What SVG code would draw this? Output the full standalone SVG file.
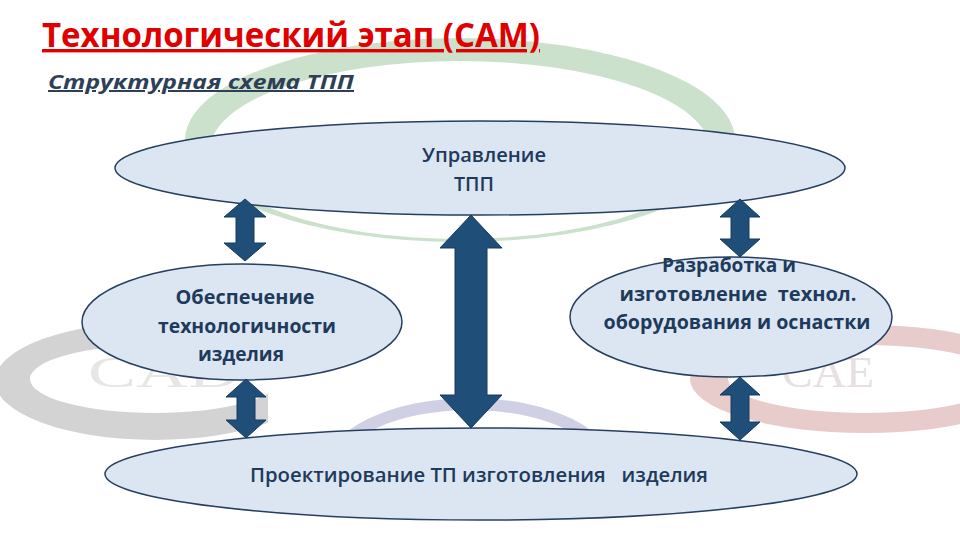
<svg xmlns="http://www.w3.org/2000/svg" width="960" height="540" viewBox="0 0 960 540">
<defs>
<style>
.node{fill:#dce6f2;stroke:#263f5e;stroke-width:1.5}
.lbl{font-family:"Open Sans","Noto Sans","Liberation Sans",sans-serif;font-size:19px;fill:#1e3a5c;text-anchor:middle;font-weight:600}
.lblb{font-weight:700}
.arr{fill:#1f4e79;stroke:#173a5e;stroke-width:1}
.ghost{font-family:"Liberation Serif","DejaVu Serif",serif;font-size:44px}
</style>
<clipPath id="clipL"><rect x="0" y="300" width="268" height="160"/></clipPath>
<clipPath id="clipB"><rect x="300" y="380" width="360" height="60"/></clipPath>
</defs>
<rect width="960" height="540" fill="#ffffff"/>
<g id="background">
<path fill="#cbe1cb" fill-rule="evenodd" d="M185,140 A275,102 0 1,0 735,140 A275,102 0 1,0 185,140 Z M210,150 A250,89 0 1,0 710,150 A250,89 0 1,0 210,150 Z"/>
<path clip-path="url(#clipL)" fill="#d3d3d3" fill-rule="evenodd" d="M-5,381 A160,59 0 1,0 315,381 A160,59 0 1,0 -5,381 Z M30,379 A125,34 0 1,0 280,379 A125,34 0 1,0 30,379 Z"/>
<path fill="#e8cccc" fill-rule="evenodd" d="M690,379 A175,54 0 1,0 1040,379 A175,54 0 1,0 690,379 Z M728,379 A137,34 0 1,0 1002,379 A137,34 0 1,0 728,379 Z"/>
<path clip-path="url(#clipB)" fill="#d0d0e4" fill-rule="evenodd" d="M325,470 A145,72 0 1,0 615,470 A145,72 0 1,0 325,470 Z M340,470 A130,60 0 1,0 600,470 A130,60 0 1,0 340,470 Z"/>
<text class="ghost" x="88" y="387" fill="#e6e6e6" textLength="152" lengthAdjust="spacingAndGlyphs">CAD</text>
<text class="ghost" x="782" y="387" fill="#e8e0e0" textLength="92" lengthAdjust="spacingAndGlyphs">CAE</text>
</g>
<g id="title">
<text x="42" y="47" font-family="'Open Sans','Noto Sans',sans-serif" font-weight="700" font-size="34" fill="#e00000" text-decoration="underline" textLength="498" lengthAdjust="spacingAndGlyphs">Технологический этап (САМ)</text>
<text x="48" y="89" font-family="'Open Sans','Noto Sans',sans-serif" font-weight="700" font-style="italic" font-size="20" fill="#2e3f58" text-decoration="underline" textLength="306" lengthAdjust="spacingAndGlyphs">Структурная схема ТПП</text>
</g>
<g id="node-upravlenie">
<ellipse class="node" cx="480" cy="168" rx="365" ry="47"/>
<text class="lbl" x="484" y="162" textLength="124" lengthAdjust="spacingAndGlyphs">Управление</text>
<text class="lbl" x="474" y="191" textLength="40" lengthAdjust="spacingAndGlyphs">ТПП</text>
</g>
<g id="node-obespechenie">
<ellipse class="node" cx="242" cy="322" rx="160" ry="58"/>
<text class="lbl lblb" x="245" y="304" textLength="139" lengthAdjust="spacingAndGlyphs">Обеспечение</text>
<text class="lbl lblb" x="247" y="333" textLength="178" lengthAdjust="spacingAndGlyphs">технологичности</text>
<text class="lbl lblb" x="241" y="361" textLength="86" lengthAdjust="spacingAndGlyphs">изделия</text>
</g>
<g id="node-razrabotka">
<ellipse class="node" cx="731" cy="317" rx="161" ry="60"/>
<text class="lbl lblb" x="729" y="272" textLength="134" lengthAdjust="spacingAndGlyphs">Разработка и</text>
<text class="lbl lblb" x="738" y="301" textLength="237" lengthAdjust="spacingAndGlyphs" xml:space="preserve">изготовление  технол.</text>
<text class="lbl lblb" x="737" y="329" textLength="267" lengthAdjust="spacingAndGlyphs">оборудования и оснастки</text>
</g>
<g id="node-proektirovanie">
<ellipse class="node" cx="481" cy="474" rx="376" ry="46"/>
<text class="lbl" x="479" y="482" textLength="458" lengthAdjust="spacingAndGlyphs" xml:space="preserve">Проектирование ТП изготовления   изделия</text>
</g>
<g id="connectors">
<polygon class="arr" points="245,199 266,217 254,217 254,243 266,243 245,261 224,243 236,243 236,217 224,217"/>
<polygon class="arr" points="246,379 266,397 255,397 255,420 266,420 246,438 226,420 237,420 237,397 226,397"/>
<polygon class="arr" points="471,215 502,248 487,248 487,395 502,395 471,428 440,395 455,395 455,248 440,248"/>
<polygon class="arr" points="740,199 760,217 749,217 749,239 760,239 740,257 720,239 731,239 731,217 720,217"/>
<polygon class="arr" points="740,377 760,395 749,395 749,422 760,422 740,440 720,422 731,422 731,395 720,395"/>
</g>
</svg>
